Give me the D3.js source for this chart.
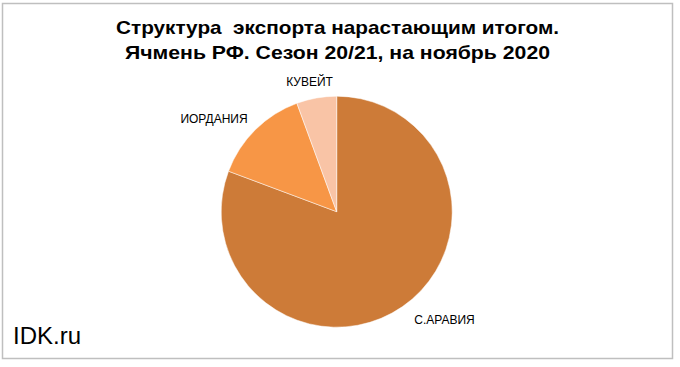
<!DOCTYPE html>
<html><head><meta charset="utf-8">
<script src="https://cdn.jsdelivr.net/npm/d3@7"></script>
<style>body{margin:0;background:#fff}svg{display:block}text{font-family:"Liberation Sans",Arial,sans-serif}</style>
</head><body>
<svg id="c" width="680" height="367"></svg>
<script>
const categories = ["С.АРАВИЯ", "ИОРДАНИЯ", "КУВЕЙТ"];
const values = [80.7, 13.7, 5.6];
const colors = ["#CD7B38", "#F79646", "#F9C4A6"];
const titleLines = ["Структура  экспорта нарастающим итогом.", "Ячмень РФ. Сезон 20/21, на ноябрь 2020"];
const titleWidths = [443, 425];

const svg = d3.select("#c");
svg.append("rect").attr("x",2.5).attr("y",3.5).attr("width",670).attr("height",355)
  .attr("fill","#fff").attr("stroke","#BFBFBF").attr("stroke-width",1.5);

svg.selectAll("text.t").data(titleLines).join("text").attr("class","t")
  .attr("x",337.5).attr("y",(d,i)=>33.5+i*25).attr("text-anchor","middle")
  .attr("font-size",19).attr("font-weight","bold").attr("fill","#000")
  .attr("textLength",(d,i)=>titleWidths[i]).attr("lengthAdjust","spacingAndGlyphs")
  .style("white-space","pre").text(d=>d);

const cx=336.7, cy=211.7, r=115.5;
const pie = d3.pie().sort(null).value(d=>d)(values);
const arc = d3.arc().innerRadius(0).outerRadius(r);
const g = svg.append("g").attr("transform",`translate(${cx},${cy})`);
g.selectAll("path").data(pie).join("path").attr("d",arc)
  .attr("fill",(d,i)=>colors[i]).attr("stroke","#fff").attr("stroke-width",0.5);

const labelPos = [[444.5,324],[214,123],[309.5,86]];
svg.selectAll("text.l").data(categories).join("text").attr("class","l")
  .attr("x",(d,i)=>labelPos[i][0]).attr("y",(d,i)=>labelPos[i][1])
  .attr("text-anchor","middle").attr("font-size",12).attr("fill","#000").text(d=>d);

svg.append("text").attr("x",13).attr("y",344).attr("font-size",24).attr("fill","#000").text("IDK.ru");
</script>
</body></html>
